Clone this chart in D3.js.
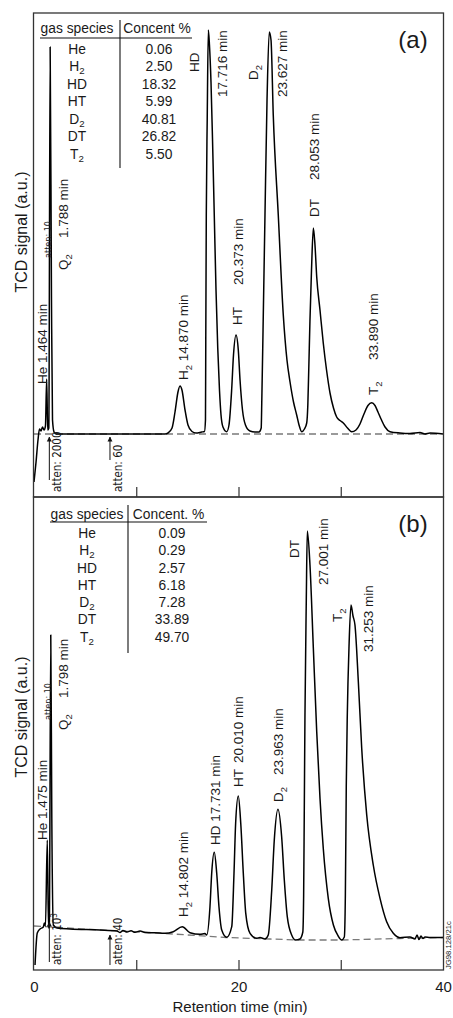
<!DOCTYPE html>
<html><head><meta charset="utf-8">
<script src="https://cdn.jsdelivr.net/npm/d3@7"></script>
<style>
body{margin:0;background:#fff}
svg{display:block}
text{font-family:"Liberation Sans",Arial,Helvetica,sans-serif;fill:#1a1a1a}
.narrow{font-family:"Liberation Sans Narrow","DejaVu Sans Condensed",sans-serif}
</style>
</head><body>
<svg id="c" width="453" height="1018"></svg>
<script>
// ---------- DATA ----------
const speciesA = ["He","H_2","HD","HT","D_2","DT","T_2"];
const concA    = ["0.06","2.50","18.32","5.99","40.81","26.82","5.50"];
const speciesB = ["He","H_2","HD","HT","D_2","DT","T_2"];
const concB    = ["0.09","0.29","2.57","6.18","7.28","33.89","49.70"];
const tableHeadA = ["gas species","Concent %"];
const tableHeadB = ["gas species","Concent. %"];

const xTicks = [0,10,20,30,40];
const xTickLabels = ["0","","20","","40"];

// chromatogram (a): retention time (min) / TCD signal (a.u.)
const timeA = [0.00,0.20,0.39,0.54,0.68,0.83,0.98,1.12,1.24,1.34,1.45,1.58,1.71,1.81,1.96,2.15,6.45,12.81,
 13.11,13.50,13.79,14.08,14.28,14.47,14.77,15.06,15.45,15.84,16.40,16.67,
 16.77,16.80,16.85,16.94,17.05,17.16,17.31,17.46,17.63,17.80,17.97,18.14,18.29,18.48,18.85,
 19.07,19.33,19.51,19.76,19.98,20.15,20.39,20.68,21.12,21.61,22.00,22.22,
 22.28,22.40,22.59,22.79,23.01,23.18,23.40,23.89,24.38,24.74,25.04,25.38,25.69,25.92,26.18,
 26.45,26.67,26.78,26.87,26.99,27.14,27.32,27.48,27.65,27.97,28.29,28.61,28.95,29.29,29.60,29.93,30.25,30.66,31.07,
 31.49,31.88,32.27,32.66,33.03,33.35,33.64,33.94,34.33,34.82,35.79,36.77,37.75,38.24,38.73,40.00];
const signalA = [-48,-28,-6,5,3,7,4,8,55,4,6,387,134,14,2,0,0,0,
 1,6,22,42,48,44,24,9,2.5,1,2,2.5,
 14,94,219,314,404,389,352,294,219,144,86,44,19,7,2.3,
 9,44,79,99,84,54,24,9,3,2,2,6,
 34,104,219,334,402,394,319,219,119,74,52,32,19,9,2.3,
 5,11,29,64,114,164,206,189,157,124,91,64,41,26,17,13.5,11,6,2.3,
 4,10,20,28.5,31.3,28.5,22,15,7,2.3,1,0.5,1.5,0,1,0];
const baseTimeA = [0,39.5];
const baseSignalA = [0,0];

// chromatogram (b)
const timeB = [0.10,0.32,0.59,0.91,1.01,1.12,1.30,1.42,1.50,1.64,1.74,1.89,2.25,3.52,6.45,8.12,8.41,8.70,9.10,9.49,9.88,10.37,10.86,11.34,12.32,12.81,
 13.62,14.50,15.26,16.23,16.72,
 16.89,17.21,17.38,17.63,17.87,18.09,18.36,18.85,
 19.34,19.56,19.72,19.98,20.22,20.47,20.71,21.13,21.78,22.10,22.59,
 22.91,23.25,23.50,23.86,24.22,24.48,24.77,25.20,25.59,
 26.01,26.29,26.37,26.43,26.50,26.63,26.73,
 26.99,27.32,27.65,27.97,28.29,28.78,29.28,29.75,30.09,
 30.35,30.45,30.54,30.64,30.81,31.00,31.20,31.39,31.72,32.05,32.54,33.18,33.84,34.49,35.14,35.79,
 36.77,37.26,37.46,37.65,37.85,38.04,38.24,38.73,40.00];
const signalB = [-29,3,7,9,13,10,96,8,9,301,120,11,8,7,6,5,3.5,5.5,4,5.2,3.7,5,3.5,3.3,3,2.7,
 4.3,9.3,3.3,1.7,2.5,
 1,29.3,63,83.7,62.7,29.3,6,-1.3,
 9.3,62.7,112.7,140,112.7,62.7,22.7,2.7,-2.3,-1.5,-3,
 1,46,96,126.7,99.3,56,19.3,1,-4,
 -3,4,40,120,221,336,405,
 371,287.7,204.3,137.7,87.7,37.7,11,0,-4,
 -1,40,150,221,290,331,320,311,254.3,187.7,121,71,37.7,14.3,2.7,-1.7,
 -1,-3,1,-3.5,0,-2.5,-1,-1.5,-1.5];
const baseTimeB = [0,6.45,11.34,18.78,23.08,25.72,30.12,35.79,40];
const baseSignalB = [10,6,3.5,-1.5,-3,-4,-4,-2.5,-1.5];

// peak annotations: text, time, signal where text starts (reads upward)
const labelTextA = ["He 1.464 min","Q_2","1.788 min","H_2 14.870 min","HD","17.716 min","HT","20.373 min","D_2","23.627 min","DT","28.053 min","T_2","33.890 min"];
const labelTimeA = [0.75,2.84,2.84,14.57,15.65,18.39,19.85,19.95,21.42,24.25,27.38,27.38,33.15,33.15];
const labelSigA  = [50,164,196,54,362,337,109,149,354,337,217,254,39,74];
const labelTextB = ["He 1.475 min","Q_2","1.798 min","H_2 14.802 min","HD 17.731 min","HT","20.010 min","D_2","23.963 min","DT","27.001 min","T_2","31.253 min"];
const labelTimeB = [0.78,2.84,2.84,14.57,17.70,19.95,19.95,23.86,23.86,25.43,28.26,29.63,32.67];
const labelSigB  = [96,206,238,19,91,149,173,134,161,378,351,314,284];

// attenuation marks
const attenTextA = ["atten: 2000","atten: 60"];
const attenTimeA = [1.50,7.43];
const attenFromA = [-46,-26];
const attenToA   = [-3,-3];
const attenTextB = ["atten: 10^3","atten: 40"];
const attenTimeB = [1.50,7.43];
const attenFromB = [-26,-29];
const attenToB   = [14,1];

// ---------- DRAW ----------
const svg = d3.select("#c");
const L = 33.5, R = 443.5;
const x = d3.scaleLinear().domain([0,40]).range([34,443]);
const panels = [
  {top:13, bottom:497, y:d3.scaleLinear().domain([-63,421]).range([497,13]),
   t:timeA, s:signalA, bt:baseTimeA, bs:baseSignalA,
   lt:labelTextA, lx:labelTimeA, ly:labelSigA,
   at:attenTextA, ax:attenTimeA, af:attenFromA, ato:attenToA,
   sp:speciesA, cc:concA, head:tableHeadA, tag:"(a)",
   tbl:{hy:28, sx:77, cx:159, r0:49, dr:17.5, ux0:40, ux1:192, uy:38, dx:120, dy0:20, dy1:168},
   atten10:{t:1.37, s:176}, show:false, ylabY:232},
  {top:497, bottom:970, y:d3.scaleLinear().domain([-34,439]).range([970,497]),
   t:timeB, s:signalB, bt:baseTimeB, bs:baseSignalB,
   lt:labelTextB, lx:labelTimeB, ly:labelSigB,
   at:attenTextB, ax:attenTimeB, af:attenFromB, ato:attenToB,
   sp:speciesB, cc:concB, head:tableHeadB, tag:"(b)",
   tbl:{hy:514, sx:87, cx:172, r0:533, dr:17.3, ux0:50, ux1:207, uy:522, dx:128, dy0:505, dy1:653},
   atten10:{t:1.37, s:216}, show:true, ylabY:717}
];

function rich(t, str, fs, subShift){
  let cur = 0;
  const ss = subShift === undefined ? 0.32 : subShift;
  str.split(/([_^]\d)/).filter(p=>p).forEach(p=>{
    let target = 0, txt = p, small = false;
    if (p[0]==='_'){ target = ss*fs; txt = p.slice(1); small = true; }
    else if (p[0]==='^'){ target = -0.42*fs; txt = p.slice(1); small = true; }
    const sp = t.append("tspan").text(txt);
    if (target !== cur){ sp.attr("dy", target-cur); cur = target; }
    if (small) sp.attr("font-size", (fs*0.7).toFixed(1));
  });
}

svg.append("defs").append("marker")
  .attr("id","arr").attr("viewBox","0 0 10 10").attr("refX",9).attr("refY",5)
  .attr("markerWidth",5).attr("markerHeight",7).attr("orient","auto")
  .attr("markerUnits","userSpaceOnUse")
  .append("path").attr("d","M0,0 L10,5 L0,10 Z").attr("fill","#111");

panels.forEach(P=>{
  const g = svg.append("g");
  const y = P.y;
  // dashed baseline
  const bl = P.bt.map((t,i)=>[t,P.bs[i]]);
  g.append("path").datum(bl)
    .attr("d", d3.line().x(d=>x(d[0])).y(d=>y(d[1])))
    .attr("fill","none").attr("stroke","#7a7a7a").attr("stroke-width",1.3)
    .attr("stroke-dasharray","7,4");
  // signal
  const pts = P.t.map((t,i)=>[t,P.s[i]]);
  g.append("path").datum(pts)
    .attr("d", d3.line().x(d=>x(d[0])).y(d=>y(d[1])).curve(d3.curveMonotoneX))
    .attr("fill","none").attr("stroke","#000").attr("stroke-width",1.5)
    .attr("stroke-linejoin","round");

  // frame
  g.append("rect").attr("x",L).attr("y",P.top).attr("width",R-L).attr("height",P.bottom-P.top)
    .attr("fill","none").attr("stroke","#333").attr("stroke-width",1.3);

  // x axis ticks (inward)
  const ax = d3.axisBottom(x).tickValues(xTicks).tickSize(-10).tickPadding(11)
    .tickFormat((d,i)=> P.show ? xTickLabels[i] : "");
  const axg = g.append("g").attr("transform",`translate(0,${P.bottom})`).call(ax);
  axg.select(".domain").remove();
  axg.selectAll(".tick line").attr("stroke","#333").attr("stroke-width",1.2)
     .filter(d=>d===0||d===40).remove();
  axg.selectAll(".tick text").attr("font-size",15).attr("fill","#1a1a1a")
     .attr("font-family",'"Liberation Sans",Arial,sans-serif');

  // peak labels
  const fs = 13.5;
  P.lt.forEach((s,i)=>{
    const t = g.append("text").attr("font-size",fs)
      .attr("transform",`translate(${x(P.lx[i])+0.36*fs},${y(P.ly[i])}) rotate(-90)`);
    rich(t, s, fs);
  });
  // atten: 10 (small)
  {
    const fa = 9;
    g.append("text").attr("class","narrow").attr("font-size",fa)
      .attr("transform",`translate(${x(P.atten10.t)+0.36*fa},${y(P.atten10.s)}) rotate(-90)`)
      .text("atten: 10");
  }
  // attenuation arrows
  P.at.forEach((s,i)=>{
    g.append("line").attr("x1",x(P.ax[i])).attr("x2",x(P.ax[i]))
      .attr("y1",y(P.af[i])).attr("y2",y(P.ato[i]))
      .attr("stroke","#111").attr("stroke-width",1).attr("marker-end","url(#arr)");
    const fa = 11.5;
    const t = g.append("text").attr("class","narrow").attr("font-size",fa)
      .attr("transform",`translate(${x(P.ax[i])+8+0.36*fa},${P.bottom-5}) rotate(-90)`);
    rich(t, s, fa);
  });

  // table
  const T = P.tbl, tf = 13.8;
  g.append("text").attr("x",T.sx).attr("y",T.hy+0.36*tf).attr("text-anchor","middle").attr("font-size",tf).text(P.head[0]);
  g.append("text").attr("x",(T.dx+T.ux1)/2+1).attr("y",T.hy+0.36*tf).attr("text-anchor","middle").attr("font-size",tf).text(P.head[1]);
  g.append("line").attr("x1",T.ux0).attr("x2",T.ux1).attr("y1",T.uy).attr("y2",T.uy).attr("stroke","#111").attr("stroke-width",1.1);
  g.append("line").attr("x1",T.dx).attr("x2",T.dx).attr("y1",T.dy0).attr("y2",T.dy1).attr("stroke","#111").attr("stroke-width",1.1);
  P.sp.forEach((s,i)=>{
    const yy = T.r0 + i*T.dr + 0.36*tf;
    const t = g.append("text").attr("x",T.sx).attr("y",yy).attr("text-anchor","middle").attr("font-size",tf);
    rich(t, s, tf, 0.2);
    g.append("text").attr("x",T.cx).attr("y",yy).attr("text-anchor","middle").attr("font-size",tf).text(P.cc[i]);
  });

  // panel tag
  g.append("text").attr("x",413).attr("y",P.top+26+0.36*24).attr("text-anchor","middle").attr("font-size",24).text(P.tag);

  // y label
  g.append("text").attr("font-size",16).attr("text-anchor","middle")
    .attr("transform",`translate(${21+0.36*16},${P.ylabY}) rotate(-90)`)
    .text("TCD signal (a.u.)");
});

// x axis title
svg.append("text").attr("x",240).attr("y",1012).attr("text-anchor","middle").attr("font-size",15)
  .text("Retention time (min)");
// figure id
svg.append("text").attr("font-size",7.7)
  .attr("transform",`translate(${448+0.36*7.7},969) rotate(-90)`).text("JG98.128/21c");
</script>
</body></html>
